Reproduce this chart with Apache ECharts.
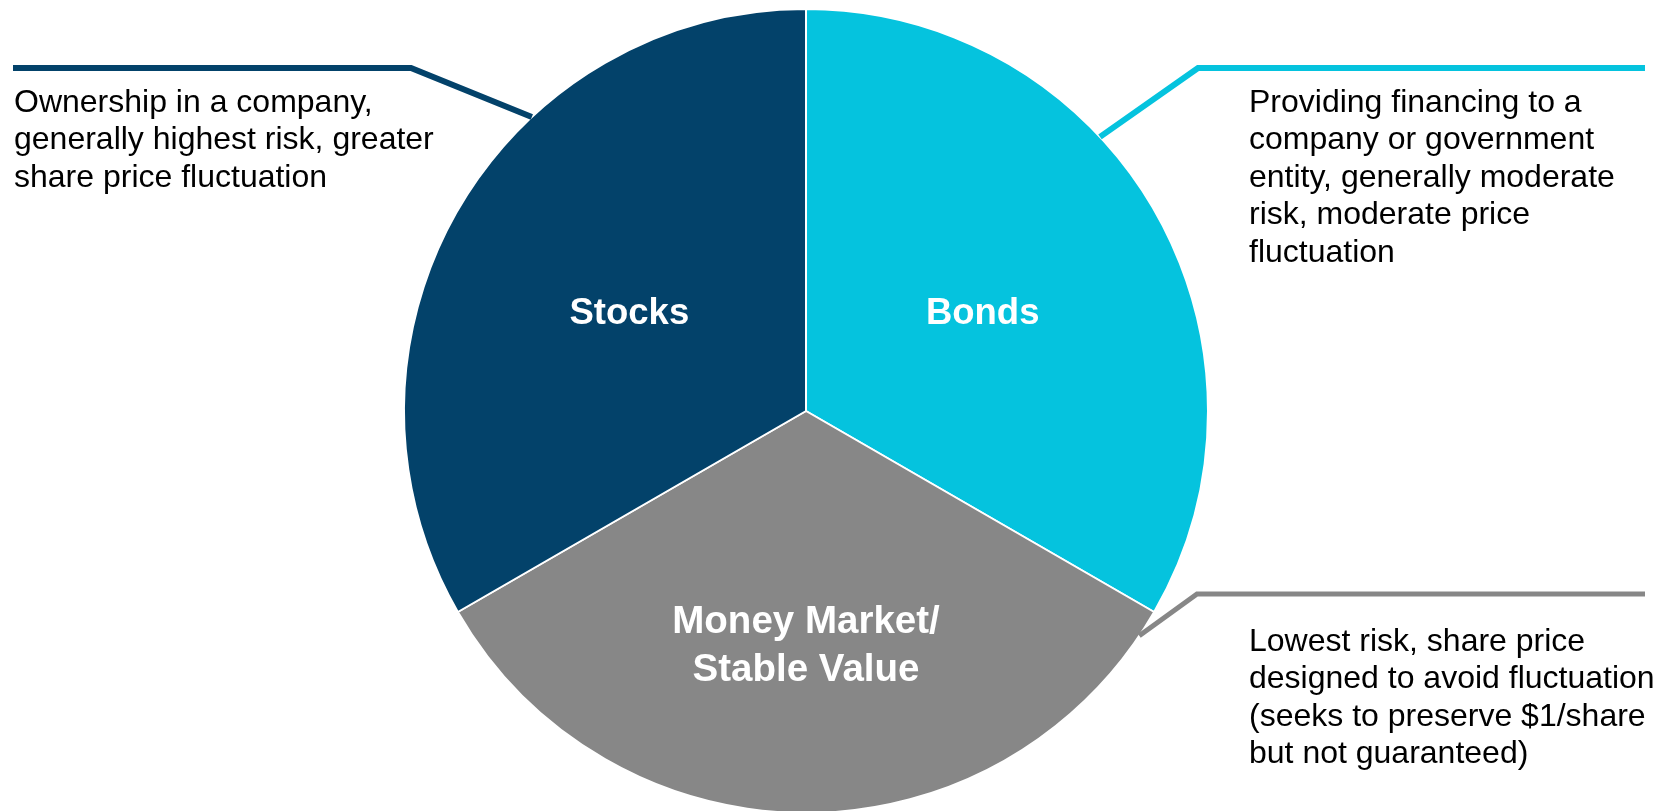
<!DOCTYPE html>
<html><head><meta charset="utf-8">
<script src="https://cdn.jsdelivr.net/npm/echarts@6/dist/echarts.min.js"></script>
<style>html,body{margin:0;padding:0;background:#fff}#chart{width:1667px;height:811px}</style>
</head><body><div id="chart"></div>
<script>
// ---- data ----
const categories = ['Bonds', 'Money Market/\nStable Value', 'Stocks'];
const shares = [1, 1, 1];
const descriptions = [
  'Providing financing to a\ncompany or government\nentity, generally moderate\nrisk, moderate price\nfluctuation',
  'Lowest risk, share price\ndesigned to avoid fluctuation\n(seeks to preserve $1/share\nbut not guaranteed)',
  'Ownership in a company,\ngenerally highest risk, greater\nshare price fluctuation'
];

// ---- styles / layout ----
const COLORS = ['#05C3DE', '#878787', '#03426A'];
const FONT = "'Liberation Sans', Arial, Helvetica, sans-serif";
const CX = 806, CY = 411, R = 402;
const CALLOUTS = [
  { angle: 43,  elbow: [1198, 68],  end: [1645, 68],  text: [1249, 84],  width: 6 },
  { angle: -34, elbow: [1197, 594], end: [1645, 594], text: [1249, 623], width: 5 },
  { angle: 133, elbow: [411, 68],   end: [13, 68],    text: [14, 84],    width: 6 }
];
const INSIDE_DY = [5, 31, 5];

const chart = echarts.init(document.getElementById('chart'), null, { renderer: 'canvas' });

const mainData = categories.map((name, i) => ({
  name: name,
  value: shares[i],
  itemStyle: { color: COLORS[i] },
  label: { fontSize: i === 1 ? 38.5 : 36.5, lineHeight: 48 }
}));

const calloutData = categories.map((name, i) => ({
  name: name,
  value: shares[i],
  label: { formatter: descriptions[i] },
  labelLine: { lineStyle: { color: COLORS[i], width: CALLOUTS[i].width } }
}));

chart.setOption({
  animation: false,
  backgroundColor: '#ffffff',
  series: [
    {
      type: 'pie',
      center: [CX, CY],
      radius: [0, R],
      startAngle: 90,
      clockwise: true,
      silent: true,
      emphasis: { disabled: true },
      itemStyle: { borderColor: '#ffffff', borderWidth: 2 },
      label: {
        show: true,
        position: 'inside',
        color: '#ffffff',
        fontFamily: FONT,
        fontWeight: 'bold',
        align: 'center'
      },
      labelLine: { show: false },
      labelLayout: function (p) {
        return { dy: INSIDE_DY[p.dataIndex] };
      },
      data: mainData
    },
    {
      type: 'pie',
      center: [CX, CY],
      radius: [0, R],
      startAngle: 90,
      clockwise: true,
      silent: true,
      z: 3,
      emphasis: { disabled: true },
      itemStyle: { color: 'rgba(0,0,0,0)', borderWidth: 0 },
      label: {
        show: true,
        position: 'outside',
        color: '#000000',
        fontFamily: FONT,
        fontSize: 32,
        lineHeight: 37.5,
        width: 480,
        overflow: 'none',
        align: 'left'
      },
      labelLine: { show: true, smooth: false, lineStyle: { cap: 'butt', join: 'miter' } },
      labelLayout: function (p) {
        const c = CALLOUTS[p.dataIndex];
        const a = c.angle * Math.PI / 180;
        const rim = [CX + R * Math.cos(a), CY - R * Math.sin(a)];
        return {
          x: c.text[0],
          y: c.text[1],
          align: 'left',
          verticalAlign: 'top',
          labelLinePoints: [rim, c.elbow, c.end]
        };
      },
      data: calloutData
    }
  ]
});
</script>
</body></html>
